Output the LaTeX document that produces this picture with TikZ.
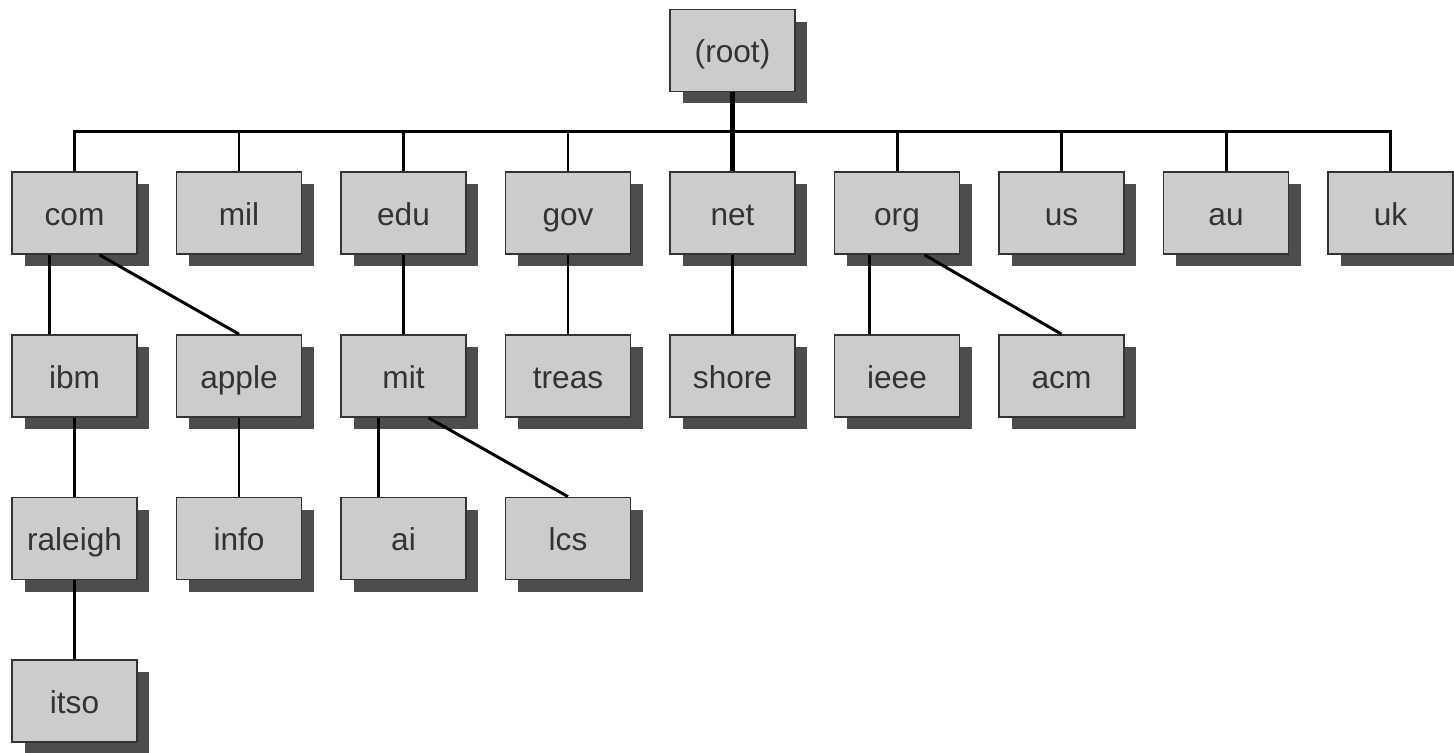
\documentclass[tikz,border=0pt]{standalone}
\usepackage{fontspec}
\setmainfont{Liberation Sans}
\usetikzlibrary{shadows}
\definecolor{boxgray}{HTML}{CCCCCC}
\definecolor{shadegray}{HTML}{4D4D4D}
\definecolor{rimgray}{HTML}{333333}
\begin{document}
\begin{tikzpicture}[x=0.02cm,y=-0.02cm,
  dnsbox/.style={draw=rimgray,line width=1pt,fill=boxgray,minimum width=2.5cm,minimum height=1.64cm,inner sep=0pt,
    text height=0.6cm,text depth=0.12cm,
    font=\fontsize{18}{20}\selectfont,text=black!80,
    drop shadow={shadow xshift=0.25cm,shadow yshift=-0.24cm,fill=shadegray,opacity=1}},
  link/.style={line width=1.7pt},
  trunk/.style={line width=2.8pt}]
\useasboundingbox (0,0) rectangle (1454,752);
\node[dnsbox] (root) at (732.5,50.5) {(root)};
\node[dnsbox] (com) at (74.5,213) {com};
\node[dnsbox] (mil) at (239,213) {mil};
\node[dnsbox] (edu) at (403.5,213) {edu};
\node[dnsbox] (gov) at (568,213) {gov};
\node[dnsbox] (net) at (732.5,213) {net};
\node[dnsbox] (org) at (897,213) {org};
\node[dnsbox] (us) at (1061.5,213) {us};
\node[dnsbox] (au) at (1226,213) {au};
\node[dnsbox] (uk) at (1390.5,213) {uk};
\node[dnsbox] (ibm) at (74.5,376) {ibm};
\node[dnsbox] (apple) at (239,376) {apple};
\node[dnsbox] (mit) at (403.5,376) {mit};
\node[dnsbox] (treas) at (568,376) {treas};
\node[dnsbox] (shore) at (732.5,376) {shore};
\node[dnsbox] (ieee) at (897,376) {ieee};
\node[dnsbox] (acm) at (1061.5,376) {acm};
\node[dnsbox] (raleigh) at (74.5,538.5) {raleigh};
\node[dnsbox] (info) at (239,538.5) {info};
\node[dnsbox] (ai) at (403.5,538.5) {ai};
\node[dnsbox] (lcs) at (568,538.5) {lcs};
\node[dnsbox] (itso) at (74.5,701) {itso};
\coordinate (bar) at (0,131);
% top level bus
\draw[trunk] (root) -- (net);
\draw[link] (com.north) -- (com.north |- bar) -- (uk.north |- bar) -- (uk.north);
\draw[link] (mil.north) -- (mil.north |- bar);
\draw[link] (edu.north) -- (edu.north |- bar);
\draw[link] (gov.north) -- (gov.north |- bar);
\draw[link] (org.north) -- (org.north |- bar);
\draw[link] (us.north) -- (us.north |- bar);
\draw[link] (au.north) -- (au.north |- bar);
% lower levels
\draw[link] ([xshift=-0.5cm]com.south) -- ([xshift=-0.5cm]ibm.north);
\draw[link] ([xshift=0.5cm]com.south) -- (apple.north);
\draw[link] (edu) -- (mit);
\draw[link] (gov) -- (treas);
\draw[link] (net) -- (shore);
\draw[link] ([xshift=-0.55cm]org.south) -- ([xshift=-0.55cm]ieee.north);
\draw[link] ([xshift=0.55cm]org.south) -- (acm.north);
\draw[link] (ibm) -- (raleigh);
\draw[link] (apple) -- (info);
\draw[link] ([xshift=-0.5cm]mit.south) -- ([xshift=-0.5cm]ai.north);
\draw[link] ([xshift=0.5cm]mit.south) -- (lcs.north);
\draw[link] (raleigh) -- (itso);
\end{tikzpicture}
\end{document}
